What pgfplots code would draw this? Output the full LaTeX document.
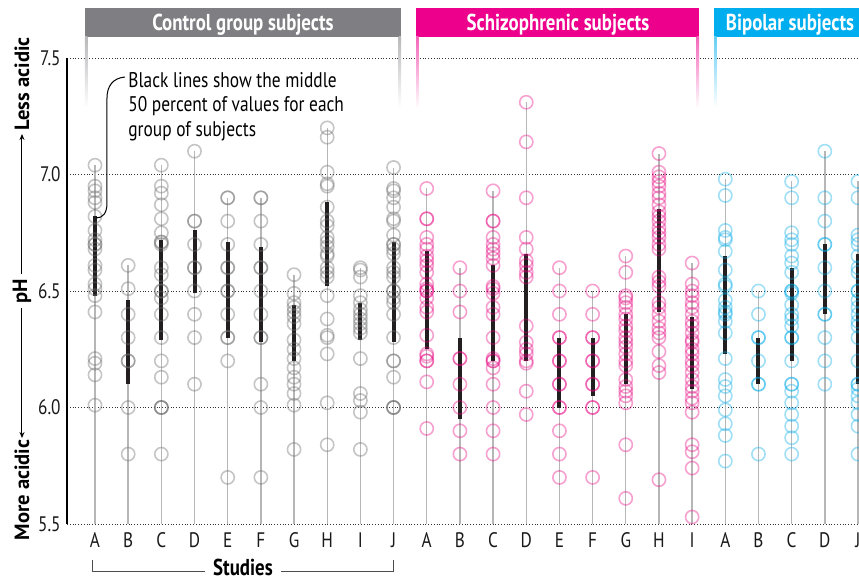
\documentclass[border=0pt]{standalone}
\usepackage{fontspec}
\setmainfont{PT Sans}[FakeStretch=0.82]
\newfontfamily\widesans{PT Sans}
\usepackage{pgfplots}
\pgfplotsset{compat=1.18}
\usepackage{pgfplotstable}
\usetikzlibrary{arrows.meta}

\definecolor{ctrl}{RGB}{110,110,110}
\definecolor{schz}{RGB}{230,0,126}
\definecolor{bipo}{RGB}{0,169,230}
\definecolor{ctrlbar}{RGB}{127,127,131}
\definecolor{schzbar}{RGB}{236,0,140}
\definecolor{bipobar}{RGB}{0,174,239}
\definecolor{stem}{RGB}{182,182,182}
\definecolor{iqr}{RGB}{35,31,32}

% studies 0-9: control group
\pgfplotstableread[row sep=\\]{x y\\
0 7.04\\0 6.95\\0 6.93\\0 6.90\\0 6.88\\0 6.82\\0 6.76\\0 6.72\\0 6.70\\0 6.70\\0 6.68\\0 6.61\\0 6.59\\0 6.53\\0 6.51\\0 6.48\\0 6.41\\0 6.21\\0 6.19\\0 6.14\\0 6.01\\
1 6.61\\1 6.51\\1 6.40\\1 6.30\\1 6.20\\1 6.20\\1 6.00\\1 5.80\\
2 7.04\\2 6.95\\2 6.92\\2 6.87\\2 6.81\\2 6.75\\2 6.71\\2 6.71\\2 6.70\\2 6.60\\2 6.57\\2 6.50\\2 6.50\\2 6.47\\2 6.40\\2 6.30\\2 6.20\\2 6.13\\2 6.00\\2 6.00\\2 6.00\\2 5.80\\
3 7.10\\3 6.80\\3 6.80\\3 6.70\\3 6.60\\3 6.60\\3 6.50\\3 6.40\\3 6.30\\3 6.10\\
4 6.90\\4 6.90\\4 6.80\\4 6.70\\4 6.60\\4 6.60\\4 6.50\\4 6.50\\4 6.40\\4 6.30\\4 6.30\\4 6.20\\4 5.70\\
5 6.90\\5 6.90\\5 6.80\\5 6.70\\5 6.60\\5 6.60\\5 6.50\\5 6.40\\5 6.30\\5 6.30\\5 6.10\\5 6.00\\5 5.70\\
6 6.57\\6 6.49\\6 6.45\\6 6.43\\6 6.41\\6 6.39\\6 6.36\\6 6.29\\6 6.25\\6 6.21\\6 6.17\\6 6.13\\6 6.10\\6 6.06\\6 6.01\\6 5.82\\
7 7.20\\7 7.16\\7 7.01\\7 6.96\\7 6.95\\7 6.86\\7 6.80\\7 6.78\\7 6.73\\7 6.71\\7 6.69\\7 6.66\\7 6.65\\7 6.60\\7 6.58\\7 6.56\\7 6.48\\7 6.38\\7 6.31\\7 6.30\\7 6.23\\7 6.02\\7 5.84\\
8 6.60\\8 6.59\\8 6.56\\8 6.48\\8 6.45\\8 6.42\\8 6.40\\8 6.38\\8 6.36\\8 6.34\\8 6.32\\8 6.21\\8 6.06\\8 6.03\\8 5.98\\8 5.82\\
9 7.03\\9 6.94\\9 6.93\\9 6.90\\9 6.86\\9 6.81\\9 6.80\\9 6.74\\9 6.70\\9 6.70\\9 6.68\\9 6.66\\9 6.60\\9 6.58\\9 6.56\\9 6.50\\9 6.50\\9 6.47\\9 6.45\\9 6.40\\9 6.30\\9 6.20\\9 6.20\\9 6.13\\9 6.00\\9 6.00\\9 6.00\\
}\control

% studies 10-18: schizophrenic subjects
\pgfplotstableread[row sep=\\]{x y\\
10 6.94\\10 6.81\\10 6.81\\10 6.73\\10 6.70\\10 6.68\\10 6.65\\10 6.63\\10 6.61\\10 6.58\\10 6.53\\10 6.51\\10 6.50\\10 6.50\\10 6.47\\10 6.43\\10 6.41\\10 6.31\\10 6.23\\10 6.22\\10 6.20\\10 6.20\\10 6.11\\10 5.91\\
11 6.60\\11 6.50\\11 6.41\\11 6.21\\11 6.21\\11 6.10\\11 6.00\\11 5.90\\11 5.80\\
12 6.93\\12 6.80\\12 6.80\\12 6.73\\12 6.70\\12 6.68\\12 6.66\\12 6.64\\12 6.61\\12 6.52\\12 6.51\\12 6.49\\12 6.43\\12 6.40\\12 6.30\\12 6.21\\12 6.20\\12 6.20\\12 6.17\\12 6.10\\12 6.00\\12 5.90\\12 5.80\\
13 7.31\\13 7.14\\13 6.90\\13 6.73\\13 6.68\\13 6.63\\13 6.61\\13 6.58\\13 6.56\\13 6.35\\13 6.28\\13 6.25\\13 6.23\\13 6.20\\13 6.19\\13 6.07\\13 5.97\\
14 6.60\\14 6.50\\14 6.40\\14 6.30\\14 6.30\\14 6.20\\14 6.20\\14 6.10\\14 6.10\\14 6.00\\14 6.00\\14 5.90\\14 5.80\\14 5.70\\
15 6.50\\15 6.40\\15 6.30\\15 6.30\\15 6.20\\15 6.20\\15 6.10\\15 6.10\\15 6.00\\15 6.00\\15 5.70\\
16 6.65\\16 6.58\\16 6.48\\16 6.47\\16 6.45\\16 6.43\\16 6.40\\16 6.38\\16 6.35\\16 6.33\\16 6.30\\16 6.28\\16 6.26\\16 6.23\\16 6.20\\16 6.18\\16 6.12\\16 6.09\\16 6.07\\16 6.05\\16 6.02\\16 5.84\\16 5.61\\
17 7.09\\17 7.01\\17 6.99\\17 6.97\\17 6.95\\17 6.92\\17 6.90\\17 6.87\\17 6.84\\17 6.82\\17 6.80\\17 6.77\\17 6.75\\17 6.73\\17 6.70\\17 6.68\\17 6.56\\17 6.54\\17 6.52\\17 6.45\\17 6.43\\17 6.40\\17 6.37\\17 6.34\\17 6.32\\17 6.30\\17 6.24\\17 6.18\\17 6.15\\17 5.69\\
18 6.62\\18 6.53\\18 6.50\\18 6.48\\18 6.45\\18 6.43\\18 6.40\\18 6.37\\18 6.35\\18 6.32\\18 6.29\\18 6.28\\18 6.25\\18 6.23\\18 6.20\\18 6.18\\18 6.15\\18 6.12\\18 6.09\\18 6.07\\18 6.04\\18 6.02\\18 5.98\\18 5.84\\18 5.81\\18 5.74\\18 5.53\\
}\schizo

% studies 19-23: bipolar subjects
\pgfplotstableread[row sep=\\]{x y\\
19 6.98\\19 6.91\\19 6.76\\19 6.73\\19 6.72\\19 6.67\\19 6.59\\19 6.53\\19 6.52\\19 6.46\\19 6.43\\19 6.41\\19 6.40\\19 6.37\\19 6.32\\19 6.21\\19 6.12\\19 6.09\\19 6.05\\19 5.99\\19 5.93\\19 5.88\\19 5.77\\
20 6.50\\20 6.40\\20 6.30\\20 6.30\\20 6.20\\20 6.10\\20 6.10\\20 5.80\\
21 6.97\\21 6.90\\21 6.75\\21 6.72\\21 6.70\\21 6.65\\21 6.62\\21 6.58\\21 6.50\\21 6.50\\21 6.49\\21 6.44\\21 6.40\\21 6.38\\21 6.35\\21 6.30\\21 6.30\\21 6.20\\21 6.10\\21 6.10\\21 6.07\\21 6.02\\21 5.97\\21 5.92\\21 5.87\\21 5.80\\
22 7.10\\22 6.90\\22 6.80\\22 6.70\\22 6.70\\22 6.60\\22 6.50\\22 6.40\\22 6.40\\22 6.30\\22 6.20\\22 6.10\\
23 6.97\\23 6.90\\23 6.74\\23 6.72\\23 6.70\\23 6.65\\23 6.60\\23 6.58\\23 6.50\\23 6.50\\23 6.46\\23 6.43\\23 6.40\\23 6.37\\23 6.35\\23 6.30\\23 6.20\\23 6.10\\23 6.10\\23 6.08\\23 6.05\\23 6.02\\23 5.97\\23 5.92\\23 5.80\\
}\bipolar

% middle 50 percent, one segment per study
\pgfplotstableread[row sep=\\]{x y\\
0 6.48\\0 6.82\\0 nan\\ 1 6.10\\1 6.46\\1 nan\\ 2 6.29\\2 6.72\\2 nan\\ 3 6.49\\3 6.76\\3 nan\\
4 6.30\\4 6.71\\4 nan\\ 5 6.28\\5 6.69\\5 nan\\ 6 6.20\\6 6.44\\6 nan\\ 7 6.52\\7 6.88\\7 nan\\
8 6.29\\8 6.45\\8 nan\\ 9 6.28\\9 6.71\\9 nan\\ 10 6.25\\10 6.67\\10 nan\\ 11 5.95\\11 6.30\\11 nan\\
12 6.20\\12 6.61\\12 nan\\ 13 6.20\\13 6.66\\13 nan\\ 14 6.00\\14 6.30\\14 nan\\ 15 6.05\\15 6.30\\15 nan\\
16 6.10\\16 6.40\\16 nan\\ 17 6.41\\17 6.85\\17 nan\\ 18 6.08\\18 6.39\\18 nan\\ 19 6.23\\19 6.65\\19 nan\\
20 6.10\\20 6.30\\20 nan\\ 21 6.20\\21 6.60\\21 nan\\ 22 6.40\\22 6.70\\22 nan\\ 23 6.10\\23 6.66\\
}\iqr

\begin{document}
\begin{tikzpicture}
\begin{axis}[
  at={(0,0)}, anchor=south west,
  scale only axis, width=396pt, height=233pt,
  xmin=-0.844, xmax=23.03, ymin=5.5, ymax=7.5,
  axis x line*=bottom, axis y line*=left,
  x axis line style={draw=none},
  y axis line style={-, black, line width=0.6pt},
  xtick={0,...,23},
  xticklabels={A,B,C,D,E,F,G,H,I,J,A,B,C,D,E,F,G,H,I,A,B,C,D,J},
  ytick={5.5,6,6.5,7,7.5},
  yticklabels={5.5,6.0,6.5,7.0,7.5},
  major tick length=0pt,
  ymajorgrids, grid style={densely dotted, black!80, line width=0.5pt},
  tick label style={font=\fontsize{10.5}{12}\selectfont, text=black!90},
  yticklabel style={anchor=east, inner sep=0pt, xshift=-3pt},
  xticklabel style={anchor=base, inner sep=0pt, yshift=-11.5pt},
]
% stems
\addplot[ycomb, stem, line width=0.7pt, no marks] table {\control};
\addplot[ycomb, stem, line width=0.7pt, no marks] table {\schizo};
\addplot[ycomb, stem, line width=0.7pt, no marks] table {\bipolar};
% subjects
\addplot[only marks, mark=o, mark size=3.3pt, mark options={line width=0.8pt, draw=ctrl, draw opacity=0.4}] table {\control};
\addplot[only marks, mark=o, mark size=3.3pt, mark options={line width=0.8pt, draw=schz, draw opacity=0.37}] table {\schizo};
\addplot[only marks, mark=o, mark size=3.3pt, mark options={line width=0.8pt, draw=bipo, draw opacity=0.37}] table {\bipolar};
% middle 50 percent
\addplot[iqr, line width=2pt, no marks, unbounded coords=jump] table {\iqr};
\end{axis}

% decorations in pixel units of the reference
\begin{scope}[x=0.5pt, y=-0.5pt, shift={(-33.5pt,262pt)}]
  \fill[ctrlbar] (85,8) rectangle (401,37);
  \fill[schzbar] (416,8) rectangle (699,37);
  \fill[bipobar] (714,8) rectangle (880,37);
  \shade[top color=ctrlbar!55, bottom color=white] (85,37) rectangle (87.5,108);
  \shade[top color=ctrlbar!55, bottom color=white] (398.5,37) rectangle (401,108);
  \shade[top color=schzbar!60, bottom color=white] (416,37) rectangle (418.5,108);
  \shade[top color=schzbar!60, bottom color=white] (696.5,37) rectangle (699,108);
  \shade[top color=bipobar!60, bottom color=white] (714,37) rectangle (716.5,108);
  \begin{scope}[every node/.style={text=white, anchor=base, inner sep=0pt, font=\bfseries\fontsize{11.5}{13}\selectfont}]
    \node at (243,31) {Control group subjects};
    \node at (558,31) {Schizophrenic subjects};
    \node at (790,31) {Bipolar subjects};
  \end{scope}

  % annotation
  \begin{scope}[every node/.style={anchor=base west, inner sep=0pt, font=\fontsize{10.6}{12}\selectfont}]
    \node at (128,87) {Black lines show the middle};
    \node at (128,112) {50 percent of values for each};
    \node at (128,137) {group of subjects};
  \end{scope}
  \draw[black, line width=0.5pt] (125,77) .. controls (113,78) and (107,86) .. (107,98) -- (107,203)
    .. controls (107,213) and (103,218) .. (96,218);

  % y axis caption
  \begin{scope}[every node/.style={rotate=90, inner sep=0pt, font=\widesans\bfseries\fontsize{10.3}{12}\selectfont}]
    \node at (22,84) {Less acidic};
    \node at (22,291) {pH};
    \node at (22,490) {More acidic};
  \end{scope}
  \draw[line width=0.5pt, -{Stealth[length=3pt, width=2.5pt]}] (22,274) -- (22,134);
  \draw[line width=0.5pt, -{Stealth[length=3pt, width=2.5pt]}] (22,308) -- (22,438);

  % studies bracket
  \draw[black!70, line width=0.5pt] (205,571) -- (93,571) -- (93,560);
  \draw[black!70, line width=0.5pt] (281,571) -- (393,571) -- (393,560);
  \node[anchor=base, inner sep=0pt, font=\bfseries\fontsize{11.5}{13}\selectfont] at (243,576) {Studies};

  \pgfresetboundingbox
  \useasboundingbox (0,0) rectangle (859,580);
\end{scope}
\end{tikzpicture}
\end{document}
